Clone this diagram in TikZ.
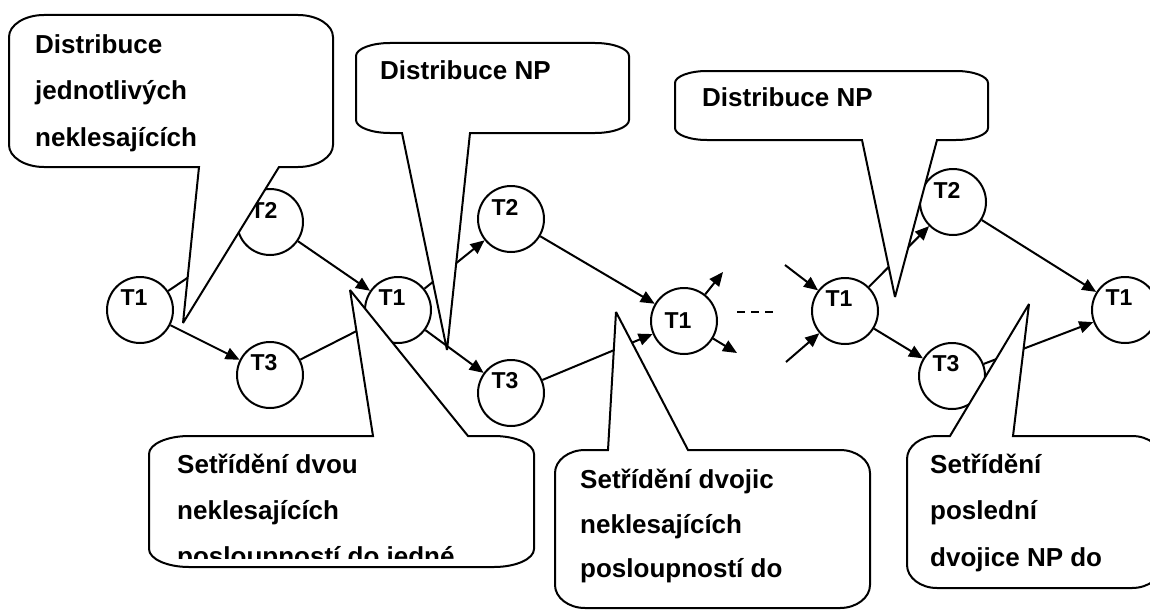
\documentclass[tikz,border=0pt]{standalone}
\usepackage{fontspec}
\setmainfont{Liberation Sans}
\usetikzlibrary{arrows.meta}
\newcommand{\balloonDown}[8]{%
  \path[balloon] (#1+\crx,#2) -- (#3-\crx,#2)
    .. controls (#3-0.45*\crx,#2) and (#3,#2+0.45*\cry) .. (#3,#2+\cry)
    -- (#3,#4-\cry)
    .. controls (#3,#4-0.45*\cry) and (#3-0.45*\crx,#4) .. (#3-\crx,#4)
    -- (#6,#4) -- (#7,#8) -- (#5,#4)
    -- (#1+\crx,#4)
    .. controls (#1+0.45*\crx,#4) and (#1,#4-0.45*\cry) .. (#1,#4-\cry)
    -- (#1,#2+\cry)
    .. controls (#1,#2+0.45*\cry) and (#1+0.45*\crx,#2) .. (#1+\crx,#2)
    -- cycle;}
\newcommand{\balloonUp}[8]{%
  \path[balloon] (#1+\crx,#2) -- (#5,#2) -- (#7,#8) -- (#6,#2) -- (#3-\crx,#2)
    .. controls (#3-0.45*\crx,#2) and (#3,#2+0.45*\cry) .. (#3,#2+\cry)
    -- (#3,#4-\cry)
    .. controls (#3,#4-0.45*\cry) and (#3-0.45*\crx,#4) .. (#3-\crx,#4)
    -- (#1+\crx,#4)
    .. controls (#1+0.45*\crx,#4) and (#1,#4-0.45*\cry) .. (#1,#4-\cry)
    -- (#1,#2+\cry)
    .. controls (#1,#2+0.45*\cry) and (#1+0.45*\crx,#2) .. (#1+\crx,#2)
    -- cycle;}
\tikzset{
  tnode/.style={circle, draw, fill=white, line width=2pt, minimum size=66pt, inner sep=0pt},
  tl/.style={label={[font=\bfseries\fontsize{23}{23}\selectfont, xshift=-6pt, yshift=12pt]center:#1}},
  tlc/.style={label={[font=\bfseries\fontsize{23}{23}\selectfont, xshift=-6pt, yshift=0pt]center:#1}},
  conn/.style={line width=2pt, -{Triangle[length=14pt,width=12pt]}},
  plain/.style={line width=2pt},
  balloon/.style={draw, fill=white, line width=2pt, line join=miter, miter limit=3},
  btext/.style={font=\bfseries\fontsize{26}{30}\selectfont, anchor=base west, inner sep=0pt}
}
\begin{document}
\begin{tikzpicture}[x=1pt, y=-1pt]
\useasboundingbox (0,0) rectangle (1150,610);
\clip (0,0) rectangle (1150,610);
% circles
\node[tnode, tl=T1] (T1a) at (140,310) {};
\node[tnode, tl=T2] (T2a) at (270,222) {};
\node[tnode, tl=T3] (T3a) at (270,375) {};
\node[tnode, tl=T1] (T1b) at (398,310) {};
\node[tnode, tl=T2] (T2b) at (511,219) {};
\node[tnode, tl=T3] (T3b) at (511,393) {};
\node[tnode, tlc=T1] (T1c) at (684,321) {};
\node[tnode, tl=T1] (T1d) at (845,311) {};
\node[tnode, tl=T2] (T2d) at (953,202) {};
\node[tnode, tl=T3] (T3d) at (952,376) {};
\node[tnode, tl=T1] (T1e) at (1125,310) {};
% free ends
\coordinate (co1) at (723,272);
\coordinate (co2) at (737,353);
\coordinate (di1) at (785,265);
\coordinate (di2) at (786,362);
\coordinate (dl) at (737,312);
\coordinate (dr) at (773,312);
% connectors
\draw[conn] (T1a) -- (T3a);
\draw[plain, shorten >=20pt] (T1a) -- (T2a);
\draw[conn] (T2a) -- (T1b);
\draw[plain] (T3a) -- (T1b);
\draw[conn] (T1b) -- (T2b);
\draw[conn] (T1b) -- (T3b);
\draw[conn] (T2b) -- (T1c);
\draw[conn] (T3b) -- (T1c);
\draw[conn] (T1c) -- (co1);
\draw[conn] (T1c) -- (co2);
\draw[line width=2pt, dash pattern=on 8pt off 6pt] (dl) -- (dr);
\draw[conn] (di1) -- (T1d);
\draw[conn] (di2) -- (T1d);
\draw[conn] (T1d) -- (T2d);
\draw[conn] (T1d) -- (T3d);
\draw[conn] (T2d) -- (T1e);
\draw[conn] (T3d) -- (T1e);
% callouts
\def\crx{35}\def\cry{22}
\balloonDown{9}{15}{333}{167}{199}{279}{183}{323}
\def\crx{34}\def\cry{13}
\balloonDown{356}{43}{629}{133}{402}{470}{447}{350}
\def\crx{32}\def\cry{12}
\balloonDown{675}{71}{988}{140}{862}{937}{895}{297}
\def\crx{40}\def\cry{18}
\balloonUp{149}{436}{534}{567}{373}{468}{350}{290}
\def\crx{30}\def\cry{23}
\balloonUp{555}{450}{870}{608}{608}{688}{616}{312}
\balloonUp{907}{436}{1162}{588}{950}{1013}{1029}{304}
% callout texts
\node[btext] (a1) at (35,53) {Distribuce};
\node[btext] (a2) at (35,99) {jednotlivých};
\node[btext] (a3) at (35,146) {neklesajících};
\node[btext] (b1) at (380,79) {Distribuce NP};
\node[btext] (c1) at (702,106) {Distribuce NP};
\node[btext] (d1) at (177,473) {Setřídění dvou};
\node[btext] (d2) at (177,519) {neklesajících};
\begin{scope}
\clip (150,530) rectangle (533,558);
\node[btext] (d3) at (177,565) {posloupností do jedné};
\end{scope}
\node[btext] (e1) at (580,488) {Setřídění dvojic};
\node[btext] (e2) at (580,533) {neklesajících};
\node[btext] (e3) at (580,577) {posloupností do};
\node[btext] (f1) at (930,473) {Setřídění};
\node[btext] (f2) at (930,519) {poslední};
\node[btext] (f3) at (930,566) {dvojice NP do};
\end{tikzpicture}
\end{document}
